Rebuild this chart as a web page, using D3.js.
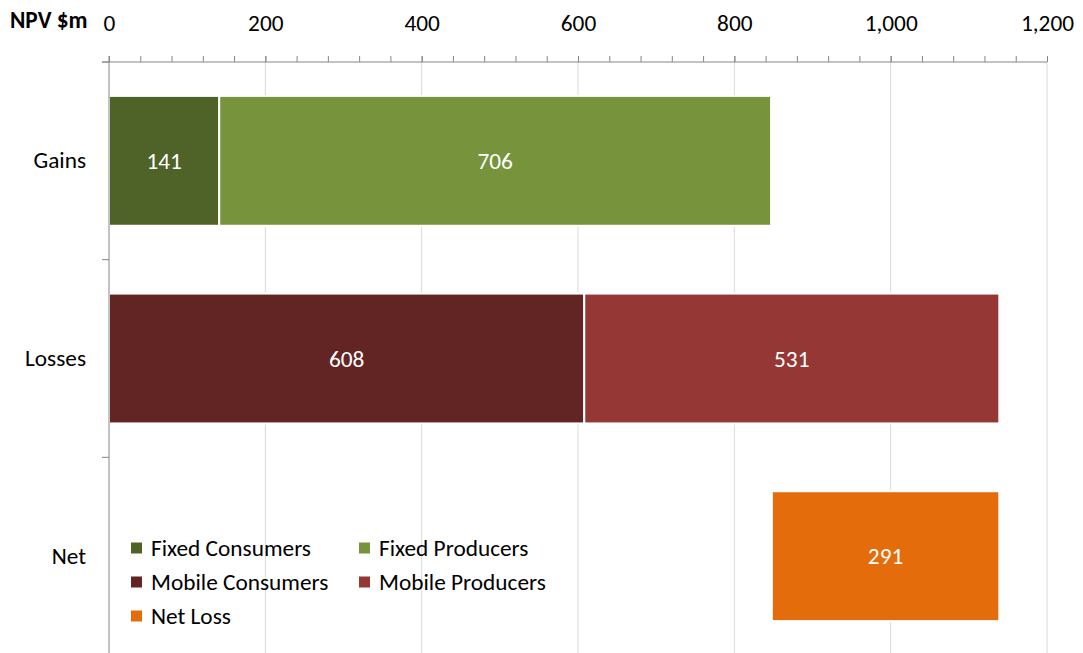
<!DOCTYPE html>
<html>
<head>
<meta charset="utf-8">
<script src="https://cdn.jsdelivr.net/npm/d3@7"></script>
<style>
  html, body { margin: 0; padding: 0; background: #fff; }
  svg { display: block; }
  text { font-family: Carlito, Lato, "Open Sans", sans-serif; fill: #000; }
</style>
</head>
<body>
<svg id="chart" width="1083" height="653"></svg>
<script>
// Categories and series
const categories = ["Gains", "Losses", "Net"];
const seriesNames = ["Fixed Consumers", "Fixed Producers", "Mobile Consumers", "Mobile Producers", "Net Loss"];
const seriesColors = ["#4f6228", "#77933c", "#632523", "#953735", "#e46c0a"];

// NPV values, $m
const gainsValues = [141, 706];   // Fixed Consumers, Fixed Producers
const lossesValues = [608, 531];  // Mobile Consumers, Mobile Producers
const netLossValue = 291;

// Axis ticks
const majorTicks = [0, 200, 400, 600, 800, 1000, 1200];
const minorTicks = d3.range(0, 1201, 40);

const svg = d3.select("#chart");
const fontSize = 23.3;

const x = d3.scaleLinear().domain([0, 1200]).range([109, 1047]);
const yCat = d3.scaleBand().domain(categories).range([62, 655]).padding(0);
const yBar = d3.scaleBand().domain(categories).range([62, 655])
  .paddingInner(0.343).paddingOuter(0.1715);

// Build segments from the value arrays
const segments = [];
function stackRow(cat, values, seriesOffset) {
  let acc = 0;
  values.forEach((v, i) => {
    segments.push({ cat, x0: acc, x1: acc + v, value: v, color: seriesColors[seriesOffset + i] });
    acc += v;
  });
  return acc;
}
stackRow("Gains", gainsValues, 0);
const lossesTotal = stackRow("Losses", lossesValues, 2);
segments.push({ cat: "Net", x0: lossesTotal - netLossValue, x1: lossesTotal, value: netLossValue, color: seriesColors[4] });

// Gridlines
svg.append("g").selectAll("line")
  .data(majorTicks.filter(d => d > 0))
  .join("line")
  .attr("x1", d => x(d)).attr("x2", d => x(d))
  .attr("y1", 62).attr("y2", 655)
  .attr("stroke", "#d9d9d9").attr("stroke-width", 1);

// Bars
svg.append("g").selectAll("rect")
  .data(segments)
  .join("rect")
  .attr("x", d => x(d.x0))
  .attr("width", d => x(d.x1) - x(d.x0))
  .attr("y", d => yBar(d.cat))
  .attr("height", yBar.bandwidth())
  .attr("fill", d => d.color)
  .attr("stroke", "#fff").attr("stroke-width", 2);

// Value labels
svg.append("g").selectAll("text")
  .data(segments)
  .join("text")
  .attr("x", d => (x(d.x0) + x(d.x1)) / 2)
  .attr("y", d => yBar(d.cat) + yBar.bandwidth() / 2)
  .attr("dy", "0.35em")
  .attr("text-anchor", "middle")
  .style("font-size", fontSize + "px")
  .style("fill", "#fff")
  .text(d => d.value);

// Top value axis: minor ticks
const minorAxis = d3.axisTop(x).tickValues(minorTicks).tickSize(6).tickFormat("");
svg.append("g").attr("transform", "translate(0,62)").call(minorAxis)
  .call(g => g.select(".domain").remove())
  .call(g => g.selectAll("line").attr("stroke", "#868686"));

// Top value axis: major ticks and labels
const majorAxis = d3.axisTop(x).tickValues(majorTicks).tickSize(6).tickPadding(25)
  .tickFormat(d3.format(","));
svg.append("g").attr("transform", "translate(0,62)").call(majorAxis)
  .call(g => g.select(".domain").remove())
  .call(g => g.selectAll("line").attr("stroke", "#868686"))
  .call(g => g.selectAll("text").style("font-size", fontSize + "px").style("fill", "#000"));

// Axis lines
svg.append("line")
  .attr("x1", 102).attr("x2", x(1200)).attr("y1", 62).attr("y2", 62)
  .attr("stroke", "#868686");
svg.append("line")
  .attr("x1", x(0)).attr("x2", x(0)).attr("y1", 56).attr("y2", 655)
  .attr("stroke", "#868686");

// Category boundary ticks
const boundaries = categories.map(c => yCat(c)).concat([yCat(categories[categories.length - 1]) + yCat.bandwidth()]);
svg.append("g").selectAll("line")
  .data(boundaries)
  .join("line")
  .attr("x1", 102).attr("x2", x(0))
  .attr("y1", d => d).attr("y2", d => d)
  .attr("stroke", "#868686");

// Category labels
const catAxis = d3.axisLeft(yCat).tickSize(0).tickPadding(23);
svg.append("g").attr("transform", `translate(${x(0)},0)`).call(catAxis)
  .call(g => g.select(".domain").remove())
  .call(g => g.selectAll("text").style("font-size", fontSize + "px").style("fill", "#000"));

// Axis title
svg.append("text")
  .attr("x", 10).attr("y", 28)
  .style("font-size", fontSize + "px")
  .style("font-weight", "bold")
  .text("NPV $m");

// Legend
const legendItems = seriesNames.map((name, i) => ({ name, color: seriesColors[i], col: i % 2, row: Math.floor(i / 2) }));
const legend = svg.append("g");
const legendX = [131, 359];
const legendY0 = 548, legendDY = 34, sq = 11;
const item = legend.selectAll("g").data(legendItems).join("g")
  .attr("transform", d => `translate(${legendX[d.col]},${legendY0 + d.row * legendDY})`);
item.append("rect")
  .attr("x", 0).attr("y", -sq / 2).attr("width", sq).attr("height", sq)
  .attr("fill", d => d.color);
item.append("text")
  .attr("x", 20).attr("dy", "0.35em")
  .style("font-size", fontSize + "px")
  .text(d => d.name);
</script>
</body>
</html>
